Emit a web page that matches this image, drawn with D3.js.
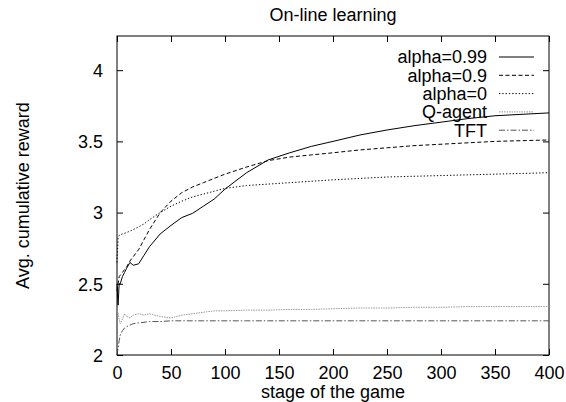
<!DOCTYPE html>
<html>
<head>
<meta charset="utf-8">
<script src="https://cdn.jsdelivr.net/npm/d3@7"></script>
<style>
  body { margin: 0; background: #fff; }
  svg text { font-family: "Liberation Sans", Arial, sans-serif; fill: #000; }
</style>
</head>
<body>
<div id="chart"></div>
<script>
const stages = [0, 1, 2, 3, 5, 7, 9, 12, 15, 20, 25, 30, 40, 50, 60, 70, 80, 90, 100,
  120, 140, 160, 180, 200, 225, 250, 275, 300, 325, 350, 375, 400];

const alpha099 = [2.5, 2.35, 2.5, 2.5, 2.55, 2.58, 2.61, 2.65, 2.63, 2.64, 2.7, 2.76, 2.85, 2.91,
  2.965, 2.995, 3.045, 3.095, 3.165, 3.28, 3.37, 3.42, 3.465, 3.5, 3.545, 3.58, 3.61, 3.635, 3.66, 3.68, 3.69, 3.7];
const alpha09 = [2.45, 2.5, 2.55, 2.56, 2.58, 2.6, 2.62, 2.66, 2.69, 2.74, 2.81, 2.88, 3.0, 3.08,
  3.14, 3.18, 3.21, 3.24, 3.27, 3.32, 3.365, 3.39, 3.405, 3.42, 3.44, 3.455, 3.47, 3.48, 3.49, 3.5, 3.505, 3.51];
const alpha0 = [2.65, 2.82, 2.84, 2.845, 2.85, 2.855, 2.86, 2.87, 2.88, 2.9, 2.92, 2.95, 3.0, 3.045,
  3.08, 3.11, 3.13, 3.15, 3.17, 3.19, 3.2, 3.21, 3.22, 3.23, 3.24, 3.25, 3.255, 3.26, 3.265, 3.27, 3.275, 3.28];
const qAgent = [2.31, 2.3, 2.25, 2.22, 2.25, 2.29, 2.27, 2.26, 2.28, 2.29, 2.28, 2.29, 2.27, 2.26,
  2.28, 2.29, 2.3, 2.31, 2.31, 2.315, 2.315, 2.32, 2.32, 2.325, 2.33, 2.33, 2.335, 2.335, 2.34, 2.34, 2.34, 2.34];
const tft = [2.0, 2.05, 2.1, 2.14, 2.17, 2.19, 2.2, 2.21, 2.22, 2.225, 2.23, 2.235, 2.235, 2.24,
  2.24, 2.24, 2.24, 2.24, 2.24, 2.24, 2.24, 2.24, 2.24, 2.24, 2.24, 2.24, 2.24, 2.24, 2.24, 2.24, 2.24, 2.24];

const seriesNames = ["alpha=0.99", "alpha=0.9", "alpha=0", "Q-agent", "TFT"];
const xTicks = [0, 50, 100, 150, 200, 250, 300, 350, 400];
const yTicks = [2, 2.5, 3, 3.5, 4];

const width = 566, height = 402;
const plotLeft = 117, plotRight = 549, plotTop = 36, plotBottom = 355;
const fontSize = 18;

const svg = d3.select("#chart").append("svg")
  .attr("width", width)
  .attr("height", height);

const xScale = d3.scaleLinear().domain([0, 400]).range([plotLeft, plotRight]);
const yScale = d3.scaleLinear().domain([2, 4.24]).range([plotBottom, plotTop]);

// line styles per series
const styles = [
  { stroke: "#000", dash: null },
  { stroke: "#000", dash: "4,2.5" },
  { stroke: "#000", dash: "1.3,2" },
  { stroke: "#999", dash: "1.5,1" },
  { stroke: "#555", dash: "6,2,1.5,2" }
];
const allValues = [alpha099, alpha09, alpha0, qAgent, tft];

// frame
svg.append("rect")
  .attr("x", plotLeft).attr("y", plotTop)
  .attr("width", plotRight - plotLeft).attr("height", plotBottom - plotTop)
  .attr("fill", "none").attr("stroke", "#000").attr("stroke-width", 1);

// axes, ticks pointing inward (mirrored)
const tickLen = 6;
const axisB = d3.axisBottom(xScale).tickValues(xTicks).tickSize(-tickLen).tickPadding(11);
const axisT = d3.axisTop(xScale).tickValues(xTicks).tickSize(-tickLen).tickFormat("");
const axisL = d3.axisLeft(yScale).tickValues(yTicks).tickSize(-tickLen).tickPadding(14)
  .tickFormat(d3.format("~g"));
const axisR = d3.axisRight(yScale).tickValues(yTicks).tickSize(-tickLen).tickFormat("");

const gx = svg.append("g").attr("transform", "translate(0," + plotBottom + ")").call(axisB);
svg.append("g").attr("transform", "translate(0," + plotTop + ")").call(axisT);
const gy = svg.append("g").attr("transform", "translate(" + plotLeft + ",0)").call(axisL);
svg.append("g").attr("transform", "translate(" + plotRight + ",0)").call(axisR);

svg.selectAll(".domain").remove();
svg.selectAll(".tick line").attr("stroke", "#000");
svg.selectAll(".tick text")
  .style("font-size", fontSize + "px")
  .style("font-family", "'Liberation Sans', Arial, sans-serif");
gx.selectAll(".tick text").attr("dy", "0.71em");
gy.selectAll(".tick text").attr("dy", "0.35em");

// lines
const line = d3.line()
  .x(function (d) { return xScale(d[0]); })
  .y(function (d) { return yScale(d[1]); });

allValues.forEach(function (vals, i) {
  const pts = stages.map(function (s, j) { return [s, vals[j]]; });
  svg.append("path")
    .datum(pts)
    .attr("fill", "none")
    .attr("stroke", styles[i].stroke)
    .attr("stroke-width", 1)
    .attr("stroke-dasharray", styles[i].dash)
    .attr("d", line);
});

// legend
const legend = svg.append("g");
seriesNames.forEach(function (name, i) {
  const y = 57 + i * 18.3;
  legend.append("text")
    .attr("x", 487).attr("y", y)
    .attr("dy", "0.35em")
    .attr("text-anchor", "end")
    .style("font-size", fontSize + "px")
    .text(name);
  legend.append("line")
    .attr("x1", 499).attr("x2", 534)
    .attr("y1", y).attr("y2", y)
    .attr("stroke", styles[i].stroke)
    .attr("stroke-width", 1)
    .attr("stroke-dasharray", styles[i].dash);
});

// title and axis labels
svg.append("text")
  .attr("x", (plotLeft + plotRight) / 2).attr("y", 21)
  .attr("text-anchor", "middle")
  .style("font-size", fontSize + "px")
  .text("On-line learning");

svg.append("text")
  .attr("x", (plotLeft + plotRight) / 2).attr("y", 398)
  .attr("text-anchor", "middle")
  .style("font-size", fontSize + "px")
  .text("stage of the game");

svg.append("text")
  .attr("transform", "translate(29," + (plotTop + plotBottom) / 2 + ") rotate(-90)")
  .attr("text-anchor", "middle")
  .style("font-size", fontSize + "px")
  .text("Avg. cumulative reward");
</script>
</body>
</html>
